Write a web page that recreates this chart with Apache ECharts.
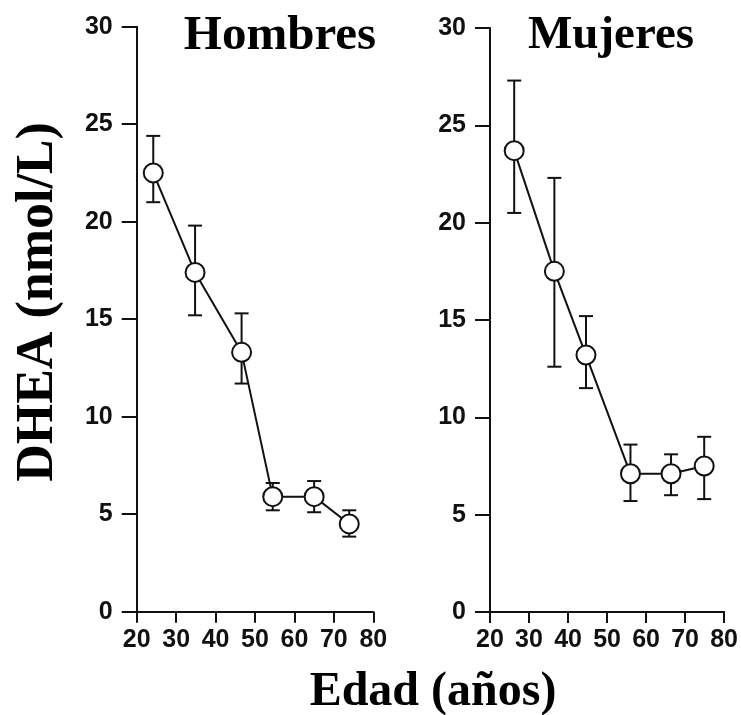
<!DOCTYPE html>
<html>
<head>
<meta charset="utf-8">
<script src="https://cdn.jsdelivr.net/npm/echarts@6/dist/echarts.min.js"></script>
<style>html,body{margin:0;padding:0;background:#fff;}#c{width:741px;height:715px;}</style>
</head>
<body>
<div id="c"></div>
<script>
// Hombres
const agesH = [24.2, 34.8, 46.6, 54.5, 65.0, 73.9];
const meanH = [22.5, 17.4, 13.3, 5.9, 5.9, 4.5];
const hiH   = [24.4, 19.8, 15.3, 6.6, 6.7, 5.2];
const loH   = [21.0, 15.2, 11.7, 5.2, 5.1, 3.85];
// Mujeres
const agesM = [26.2, 36.5, 44.6, 56.0, 66.4, 74.9];
const meanM = [23.7, 17.5, 13.2, 7.1, 7.1, 7.5];
const hiM   = [27.3, 22.3, 15.2, 8.6, 8.1, 9.0];
const loM   = [20.5, 12.6, 11.5, 5.7, 6.0, 5.8];

const panelTitles = ['Hombres', 'Mujeres'];
const yName = 'DHEA (nmol/L)';
const xName = 'Edad (años)';

const INK = '#111';
const tickFont = {fontFamily: '"Liberation Sans Narrow", "Liberation Sans", sans-serif', fontWeight: 'bold', fontSize: 25, color: INK};

function errItem(params, api) {
  const x = api.value(0), lo = api.value(1), hi = api.value(2);
  const a = api.coord([x, hi]), b = api.coord([x, lo]);
  const w = 7;
  const st = {stroke: INK, lineWidth: 2};
  return {type: 'group', children: [
    {type: 'line', shape: {x1: a[0], y1: a[1], x2: b[0], y2: b[1]}, style: st},
    {type: 'line', shape: {x1: a[0] - w, y1: a[1], x2: a[0] + w, y2: a[1]}, style: st},
    {type: 'line', shape: {x1: b[0] - w, y1: b[1], x2: b[0] + w, y2: b[1]}, style: st}
  ]};
}

function xAxis(i) {
  return {gridIndex: i, type: 'value', min: 20, max: 80, interval: 10,
    axisLine: {show: true, lineStyle: {color: INK, width: 2}},
    axisTick: {show: true, length: 11, lineStyle: {color: INK, width: 2}},
    axisLabel: Object.assign({margin: 16}, tickFont),
    splitLine: {show: false}};
}
function yAxis(i) {
  return {gridIndex: i, type: 'value', min: 0, max: 30, interval: 5,
    axisLine: {show: true, lineStyle: {color: INK, width: 2}},
    axisTick: {show: true, length: 15, lineStyle: {color: INK, width: 2}},
    axisLabel: Object.assign({margin: 24}, tickFont),
    splitLine: {show: false}};
}
function zip(a, b) { return a.map((v, k) => [v, b[k]]); }
function zip3(a, b, c) { return a.map((v, k) => [v, b[k], c[k]]); }

const groups = [[agesH, meanH, loH, hiH], [agesM, meanM, loM, hiM]];
const series = [];
groups.forEach((g, i) => {
  series.push({type: 'custom', xAxisIndex: i, yAxisIndex: i, z: 2,
    renderItem: errItem, encode: {x: 0, y: [1, 2]}, data: zip3(g[0], g[2], g[3])});
  series.push({type: 'line', xAxisIndex: i, yAxisIndex: i, z: 3,
    data: zip(g[0], g[1]), symbol: 'circle', symbolSize: 19,
    lineStyle: {color: INK, width: 2},
    itemStyle: {color: '#fff', borderColor: INK, borderWidth: 2}});
});

const chart = echarts.init(document.getElementById('c'));
chart.setOption({
  animation: false,
  backgroundColor: '#fff',
  grid: [
    {left: 136.7, right: 367.7, top: 26.7, bottom: 103.3},
    {left: 490, right: 15, top: 28, bottom: 103}
  ],
  xAxis: [xAxis(0), xAxis(1)],
  yAxis: [yAxis(0), yAxis(1)],
  series: series,
  graphic: [
    {type: 'text', x: 280, y: 36, style: {text: panelTitles[0], font: 'bold 49px "Liberation Serif"', fill: '#000', textAlign: 'center', textVerticalAlign: 'middle'}},
    {type: 'text', x: 611, y: 36, style: {text: panelTitles[1], font: 'bold 47px "Liberation Serif"', fill: '#000', textAlign: 'center', textVerticalAlign: 'middle'}},
    {type: 'text', x: 39, y: 302, rotation: Math.PI / 2, style: {text: yName, font: 'bold 52px "Liberation Serif"', fill: '#000', textAlign: 'center', textVerticalAlign: 'middle'}},
    {type: 'text', x: 433, y: 693, style: {text: xName, font: 'bold 48px "Liberation Serif"', fill: '#000', textAlign: 'center', textVerticalAlign: 'middle'}}
  ]
});
</script>
</body>
</html>
